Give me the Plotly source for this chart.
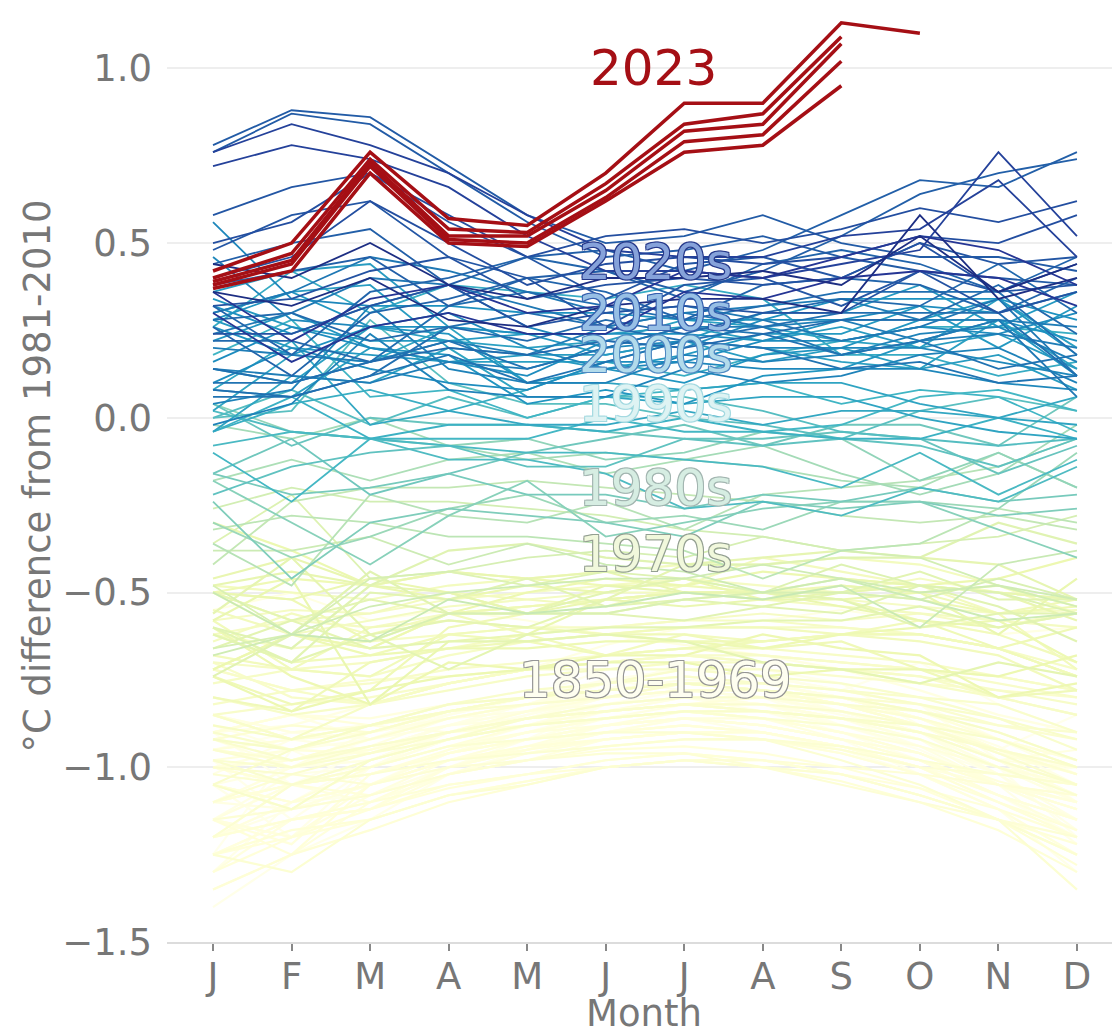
import numpy as np
import plotly.graph_objects as go

month_names = ["Jan", "Feb", "Mar", "Apr", "May", "Jun", "Jul", "Aug", "Sep", "Oct", "Nov", "Dec"]
month_labels = ["J", "F", "M", "A", "M", "J", "J", "A", "S", "O", "N", "D"]

# Monthly anomalies (deg C vs 1981-2010), one row per year, grouped by decade
d1850s = [
    [-1.25,-0.95,-1.05,-0.98,-0.92,-0.82,-0.78,-0.80,-0.88,-0.95,-1.05,-1.15],
    [-0.95,-0.90,-0.88,-0.85,-0.80,-0.72,-0.70,-0.74,-0.78,-0.70,-0.82,-0.90],
    [-1.05,-1.10,-0.98,-0.92,-0.85,-0.78,-0.70,-0.72,-0.76,-0.88,-0.95,-0.85],
    [-0.90,-1.05,-0.95,-0.88,-0.82,-0.75,-0.78,-0.80,-0.85,-0.90,-1.00,-1.20],
    [-1.10,-1.00,-0.92,-0.84,-0.80,-0.76,-0.72,-0.74,-0.78,-0.82,-0.98,-1.05],
    [-0.98,-1.15,-1.00,-0.90,-0.86,-0.80,-0.76,-0.78,-0.82,-0.86,-0.95,-1.10],
    [-1.15,-1.05,-1.02,-0.96,-0.90,-0.84,-0.80,-0.84,-0.90,-0.98,-1.08,-1.20],
    [-1.20,-1.10,-1.08,-1.00,-0.95,-0.88,-0.86,-0.88,-0.92,-1.02,-1.12,-1.25],
    [-1.05,-1.20,-1.00,-0.92,-0.88,-0.82,-0.80,-0.82,-0.86,-0.94,-1.02,-1.00],
    [-0.92,-0.95,-0.90,-0.86,-0.82,-0.76,-0.74,-0.76,-0.80,-0.84,-0.92,-1.02],
]
d1860s = [
    [-1.00,-1.05,-0.98,-0.90,-0.85,-0.80,-0.78,-0.80,-0.84,-0.90,-1.00,-1.10],
    [-1.30,-1.10,-1.05,-0.95,-0.88,-0.82,-0.80,-0.82,-0.88,-0.92,-1.02,-1.18],
    [-1.40,-1.25,-1.15,-1.02,-0.95,-0.90,-0.86,-0.90,-0.95,-1.02,-1.12,-1.30],
    [-0.85,-0.90,-0.92,-0.85,-0.80,-0.75,-0.72,-0.74,-0.78,-0.82,-0.92,-0.98],
    [-1.20,-1.12,-1.08,-1.00,-0.92,-0.86,-0.84,-0.86,-0.90,-0.96,-1.05,-1.22],
    [-0.95,-1.00,-0.95,-0.88,-0.82,-0.78,-0.75,-0.76,-0.80,-0.86,-0.96,-1.00],
    [-0.88,-0.95,-0.92,-0.86,-0.82,-0.76,-0.74,-0.76,-0.80,-0.86,-0.94,-1.05],
    [-1.02,-0.92,-0.95,-0.88,-0.84,-0.78,-0.76,-0.78,-0.82,-0.88,-0.98,-1.08],
    [-1.15,-1.02,-1.00,-0.90,-0.84,-0.80,-0.76,-0.78,-0.84,-0.88,-0.95,-1.00],
    [-0.90,-0.85,-0.92,-0.86,-0.82,-0.78,-0.76,-0.78,-0.80,-0.86,-0.92,-0.98],
]
d1870s = [
    [-1.05,-1.00,-0.98,-0.90,-0.86,-0.80,-0.78,-0.80,-0.84,-0.90,-1.02,-1.15],
    [-1.20,-1.05,-1.00,-0.92,-0.86,-0.82,-0.80,-0.82,-0.86,-0.92,-1.05,-1.12],
    [-1.00,-0.95,-0.96,-0.88,-0.84,-0.78,-0.76,-0.78,-0.82,-0.88,-0.98,-1.05],
    [-0.95,-0.98,-0.94,-0.86,-0.82,-0.78,-0.76,-0.76,-0.80,-0.86,-0.95,-1.02],
    [-0.92,-1.00,-0.98,-0.90,-0.86,-0.82,-0.80,-0.82,-0.84,-0.90,-1.00,-1.10],
    [-1.10,-1.12,-1.05,-0.96,-0.90,-0.86,-0.82,-0.84,-0.88,-0.94,-1.05,-1.12],
    [-1.00,-1.05,-1.00,-0.92,-0.88,-0.84,-0.80,-0.80,-0.82,-0.86,-0.95,-1.00],
    [-0.90,-0.88,-0.82,-0.76,-0.72,-0.65,-0.60,-0.58,-0.55,-0.58,-0.62,-0.60],
    [-0.55,-0.50,-0.58,-0.55,-0.58,-0.62,-0.65,-0.68,-0.72,-0.78,-0.85,-0.90],
    [-0.95,-0.92,-0.90,-0.86,-0.84,-0.82,-0.80,-0.82,-0.86,-0.90,-0.98,-1.10],
]
d1880s = [
    [-0.95,-0.98,-0.92,-0.88,-0.86,-0.84,-0.82,-0.82,-0.86,-0.92,-1.02,-1.05],
    [-1.10,-1.00,-0.90,-0.84,-0.80,-0.80,-0.78,-0.80,-0.84,-0.90,-0.98,-0.95],
    [-0.85,-0.90,-0.88,-0.90,-0.86,-0.84,-0.82,-0.84,-0.86,-0.90,-0.98,-1.08],
    [-1.05,-1.12,-1.05,-0.96,-0.90,-0.86,-0.84,-0.86,-0.92,-0.96,-1.05,-1.10],
    [-1.15,-1.05,-1.10,-1.02,-0.98,-0.92,-0.90,-0.92,-0.95,-1.00,-1.10,-1.20],
    [-1.25,-1.15,-1.10,-1.02,-0.96,-0.92,-0.90,-0.90,-0.94,-1.00,-1.05,-1.15],
    [-1.15,-1.20,-1.08,-0.98,-0.94,-0.90,-0.86,-0.88,-0.92,-0.98,-1.05,-1.12],
    [-1.20,-1.10,-1.05,-1.00,-0.95,-0.90,-0.88,-0.90,-0.94,-1.00,-1.08,-1.18],
    [-1.30,-1.15,-1.12,-1.00,-0.94,-0.88,-0.84,-0.84,-0.86,-0.90,-0.98,-1.00],
    [-0.90,-0.85,-0.86,-0.82,-0.80,-0.78,-0.76,-0.78,-0.82,-0.88,-0.98,-1.05],
]
d1890s = [
    [-1.10,-1.05,-1.02,-0.96,-0.92,-0.88,-0.86,-0.88,-0.92,-0.98,-1.08,-1.15],
    [-1.15,-1.20,-1.05,-0.98,-0.92,-0.88,-0.86,-0.86,-0.90,-0.96,-1.05,-1.10],
    [-1.25,-1.15,-1.12,-1.02,-0.96,-0.92,-0.90,-0.92,-0.96,-1.02,-1.12,-1.25],
    [-1.35,-1.25,-1.10,-1.00,-0.95,-0.90,-0.88,-0.90,-0.94,-1.00,-1.08,-1.15],
    [-1.10,-1.05,-1.00,-0.94,-0.90,-0.88,-0.86,-0.88,-0.92,-0.96,-1.04,-1.10],
    [-1.15,-1.22,-1.02,-0.95,-0.90,-0.86,-0.84,-0.86,-0.90,-0.94,-1.00,-1.05],
    [-0.98,-0.95,-0.96,-0.90,-0.84,-0.80,-0.78,-0.78,-0.80,-0.84,-0.92,-0.98],
    [-0.95,-0.92,-0.90,-0.84,-0.80,-0.78,-0.76,-0.78,-0.80,-0.86,-0.95,-1.02],
    [-1.00,-1.05,-1.02,-0.96,-0.92,-0.88,-0.86,-0.88,-0.92,-0.98,-1.08,-1.15],
    [-1.05,-1.10,-1.00,-0.94,-0.88,-0.84,-0.82,-0.80,-0.80,-0.84,-0.90,-0.98],
]
d1900s = [
    [-0.90,-0.85,-0.88,-0.84,-0.80,-0.78,-0.76,-0.78,-0.82,-0.88,-0.96,-1.02],
    [-1.00,-0.98,-0.95,-0.90,-0.88,-0.86,-0.84,-0.86,-0.90,-0.96,-1.05,-1.12],
    [-1.05,-1.10,-1.05,-0.98,-0.95,-0.92,-0.90,-0.92,-0.96,-1.02,-1.10,-1.20],
    [-1.10,-1.05,-1.08,-1.02,-0.98,-0.95,-0.94,-0.96,-1.00,-1.06,-1.15,-1.25],
    [-1.25,-1.20,-1.15,-1.08,-1.04,-1.00,-0.98,-0.98,-1.02,-1.06,-1.12,-1.20],
    [-1.15,-1.25,-1.05,-0.98,-0.94,-0.92,-0.90,-0.90,-0.94,-0.98,-1.05,-1.08],
    [-1.00,-1.05,-1.02,-0.96,-0.92,-0.90,-0.88,-0.90,-0.94,-1.00,-1.10,-1.18],
    [-1.30,-1.20,-1.12,-1.06,-1.02,-0.98,-0.96,-0.98,-1.02,-1.08,-1.15,-1.22],
    [-1.20,-1.15,-1.12,-1.05,-1.02,-1.00,-0.98,-1.00,-1.02,-1.08,-1.15,-1.25],
    [-1.25,-1.18,-1.15,-1.08,-1.04,-1.00,-0.98,-1.00,-1.04,-1.10,-1.18,-1.30],
]
d1910s = [
    [-1.20,-1.15,-1.10,-1.05,-1.02,-0.98,-0.96,-0.98,-1.02,-1.08,-1.15,-1.28],
    [-1.35,-1.25,-1.18,-1.10,-1.05,-1.00,-0.98,-0.98,-1.00,-1.02,-1.05,-1.08],
    [-1.10,-1.02,-1.05,-1.00,-0.98,-0.96,-0.96,-1.00,-1.05,-1.10,-1.15,-1.20],
    [-1.15,-1.12,-1.08,-1.02,-0.98,-0.94,-0.92,-0.92,-0.95,-1.00,-1.02,-1.05],
    [-0.95,-0.98,-0.92,-0.86,-0.82,-0.80,-0.78,-0.78,-0.82,-0.86,-0.92,-1.00],
    [-0.92,-0.88,-0.90,-0.84,-0.80,-0.78,-0.76,-0.78,-0.82,-0.88,-0.95,-1.02],
    [-1.02,-1.05,-1.00,-0.94,-0.92,-0.90,-0.90,-0.92,-0.98,-1.05,-1.15,-1.25],
    [-1.25,-1.30,-1.15,-1.08,-1.05,-1.00,-0.98,-1.00,-1.02,-1.08,-1.15,-1.35],
    [-1.20,-1.05,-1.02,-0.98,-0.96,-0.94,-0.92,-0.92,-0.94,-0.98,-1.02,-1.05],
    [-0.98,-1.00,-0.96,-0.92,-0.88,-0.86,-0.84,-0.86,-0.88,-0.92,-1.00,-1.08],
]
d1920s = [
    [-0.95,-1.00,-0.94,-0.90,-0.86,-0.84,-0.82,-0.82,-0.84,-0.88,-0.96,-1.05],
    [-0.85,-0.92,-0.88,-0.84,-0.82,-0.80,-0.76,-0.78,-0.80,-0.82,-0.88,-0.92],
    [-1.00,-1.02,-0.96,-0.90,-0.86,-0.84,-0.82,-0.84,-0.86,-0.90,-0.95,-1.00],
    [-0.98,-1.05,-0.98,-0.92,-0.86,-0.82,-0.80,-0.80,-0.82,-0.84,-0.88,-0.90],
    [-0.92,-0.98,-0.94,-0.90,-0.86,-0.84,-0.82,-0.84,-0.86,-0.90,-0.98,-1.05],
    [-1.05,-0.95,-0.90,-0.84,-0.80,-0.76,-0.72,-0.72,-0.74,-0.76,-0.78,-0.80],
    [-0.72,-0.78,-0.75,-0.74,-0.72,-0.72,-0.72,-0.74,-0.76,-0.80,-0.86,-0.95],
    [-0.90,-0.95,-0.88,-0.82,-0.78,-0.76,-0.74,-0.76,-0.78,-0.80,-0.82,-0.90],
    [-0.85,-0.92,-0.88,-0.84,-0.80,-0.78,-0.76,-0.76,-0.78,-0.82,-0.86,-0.92],
    [-1.05,-1.12,-0.98,-0.92,-0.88,-0.86,-0.84,-0.84,-0.86,-0.88,-0.92,-1.00],
]
d1930s = [
    [-0.85,-0.82,-0.80,-0.76,-0.72,-0.70,-0.68,-0.68,-0.70,-0.72,-0.74,-0.78],
    [-0.72,-0.78,-0.76,-0.72,-0.70,-0.68,-0.66,-0.68,-0.70,-0.72,-0.76,-0.80],
    [-0.70,-0.80,-0.82,-0.76,-0.72,-0.70,-0.68,-0.70,-0.72,-0.74,-0.80,-0.85],
    [-0.92,-0.95,-0.88,-0.82,-0.80,-0.78,-0.76,-0.78,-0.80,-0.84,-0.90,-0.98],
    [-0.80,-0.85,-0.82,-0.76,-0.72,-0.70,-0.68,-0.70,-0.72,-0.74,-0.78,-0.82],
    [-0.82,-0.78,-0.82,-0.78,-0.74,-0.72,-0.70,-0.70,-0.72,-0.76,-0.80,-0.85],
    [-0.88,-0.92,-0.82,-0.76,-0.72,-0.68,-0.66,-0.66,-0.68,-0.70,-0.74,-0.78],
    [-0.76,-0.72,-0.74,-0.68,-0.64,-0.62,-0.60,-0.60,-0.60,-0.62,-0.66,-0.72],
    [-0.62,-0.66,-0.64,-0.62,-0.60,-0.60,-0.58,-0.58,-0.60,-0.62,-0.66,-0.74],
    [-0.70,-0.72,-0.70,-0.66,-0.62,-0.60,-0.58,-0.56,-0.58,-0.56,-0.60,-0.55],
]
d1940s = [
    [-0.62,-0.58,-0.60,-0.56,-0.54,-0.52,-0.50,-0.50,-0.52,-0.54,-0.56,-0.55],
    [-0.58,-0.55,-0.56,-0.52,-0.50,-0.48,-0.46,-0.48,-0.50,-0.46,-0.50,-0.52],
    [-0.50,-0.62,-0.58,-0.54,-0.52,-0.50,-0.50,-0.52,-0.54,-0.56,-0.58,-0.60],
    [-0.64,-0.56,-0.62,-0.56,-0.54,-0.52,-0.50,-0.50,-0.50,-0.48,-0.50,-0.52],
    [-0.48,-0.50,-0.52,-0.48,-0.46,-0.44,-0.42,-0.42,-0.40,-0.42,-0.48,-0.56],
    [-0.50,-0.58,-0.56,-0.50,-0.52,-0.54,-0.48,-0.40,-0.44,-0.48,-0.56,-0.72],
    [-0.55,-0.62,-0.66,-0.56,-0.62,-0.68,-0.62,-0.64,-0.62,-0.64,-0.68,-0.78],
    [-0.68,-0.72,-0.60,-0.58,-0.60,-0.62,-0.60,-0.60,-0.62,-0.58,-0.62,-0.70],
    [-0.58,-0.72,-0.74,-0.62,-0.60,-0.62,-0.64,-0.64,-0.62,-0.62,-0.66,-0.74],
    [-0.62,-0.70,-0.68,-0.62,-0.64,-0.68,-0.66,-0.64,-0.62,-0.62,-0.66,-0.74],
]
d1950s = [
    [-0.80,-0.84,-0.70,-0.66,-0.64,-0.62,-0.62,-0.66,-0.64,-0.72,-0.80,-0.78],
    [-0.74,-0.82,-0.78,-0.60,-0.56,-0.56,-0.52,-0.50,-0.48,-0.50,-0.56,-0.52],
    [-0.50,-0.52,-0.64,-0.56,-0.54,-0.52,-0.50,-0.50,-0.52,-0.58,-0.66,-0.60],
    [-0.50,-0.46,-0.48,-0.44,-0.46,-0.48,-0.48,-0.50,-0.50,-0.52,-0.56,-0.54],
    [-0.72,-0.62,-0.68,-0.66,-0.66,-0.64,-0.64,-0.66,-0.62,-0.60,-0.58,-0.70],
    [-0.60,-0.74,-0.82,-0.70,-0.72,-0.68,-0.68,-0.62,-0.66,-0.68,-0.80,-0.76],
    [-0.74,-0.84,-0.78,-0.74,-0.72,-0.70,-0.70,-0.74,-0.72,-0.72,-0.74,-0.68],
    [-0.72,-0.62,-0.66,-0.56,-0.50,-0.46,-0.48,-0.44,-0.46,-0.48,-0.46,-0.40],
    [-0.30,-0.38,-0.48,-0.52,-0.48,-0.50,-0.46,-0.52,-0.52,-0.50,-0.48,-0.54],
    [-0.50,-0.52,-0.46,-0.50,-0.56,-0.52,-0.50,-0.50,-0.54,-0.58,-0.60,-0.56],
]
d1960s = [
    [-0.58,-0.46,-0.82,-0.64,-0.62,-0.52,-0.54,-0.52,-0.48,-0.50,-0.62,-0.46],
    [-0.46,-0.40,-0.48,-0.44,-0.46,-0.44,-0.50,-0.50,-0.46,-0.48,-0.50,-0.58],
    [-0.48,-0.44,-0.48,-0.50,-0.56,-0.48,-0.50,-0.52,-0.50,-0.48,-0.50,-0.52],
    [-0.56,-0.40,-0.62,-0.58,-0.60,-0.52,-0.42,-0.40,-0.38,-0.40,-0.42,-0.52],
    [-0.50,-0.58,-0.66,-0.64,-0.64,-0.62,-0.64,-0.70,-0.72,-0.76,-0.70,-0.74],
    [-0.62,-0.70,-0.62,-0.72,-0.62,-0.60,-0.60,-0.58,-0.58,-0.54,-0.60,-0.56],
    [-0.66,-0.58,-0.52,-0.56,-0.56,-0.50,-0.46,-0.50,-0.52,-0.60,-0.56,-0.56],
    [-0.60,-0.70,-0.50,-0.52,-0.46,-0.54,-0.52,-0.54,-0.50,-0.44,-0.52,-0.52],
    [-0.74,-0.62,-0.44,-0.56,-0.56,-0.56,-0.58,-0.54,-0.56,-0.48,-0.54,-0.64],
    [-0.60,-0.66,-0.48,-0.38,-0.36,-0.40,-0.42,-0.42,-0.40,-0.40,-0.30,-0.36],
]
d1970s = [
    [-0.36,-0.22,-0.46,-0.44,-0.48,-0.44,-0.46,-0.50,-0.42,-0.48,-0.50,-0.56],
    [-0.48,-0.62,-0.64,-0.56,-0.56,-0.56,-0.52,-0.50,-0.50,-0.52,-0.46,-0.52],
    [-0.66,-0.62,-0.46,-0.44,-0.40,-0.38,-0.40,-0.34,-0.38,-0.36,-0.34,-0.28],
    [-0.26,-0.20,-0.24,-0.24,-0.26,-0.28,-0.32,-0.34,-0.38,-0.40,-0.48,-0.54],
    [-0.68,-0.62,-0.54,-0.50,-0.48,-0.46,-0.46,-0.42,-0.46,-0.50,-0.48,-0.52],
    [-0.38,-0.38,-0.34,-0.42,-0.36,-0.42,-0.44,-0.50,-0.46,-0.52,-0.58,-0.56],
    [-0.50,-0.62,-0.64,-0.52,-0.56,-0.54,-0.50,-0.52,-0.48,-0.60,-0.42,-0.38],
    [-0.42,-0.24,-0.20,-0.20,-0.18,-0.20,-0.22,-0.24,-0.28,-0.30,-0.28,-0.32],
    [-0.32,-0.28,-0.30,-0.34,-0.34,-0.36,-0.38,-0.46,-0.38,-0.36,-0.26,-0.30],
    [-0.36,-0.48,-0.22,-0.28,-0.30,-0.24,-0.32,-0.22,-0.20,-0.18,-0.14,-0.06],
]
d1980s = [
    [-0.18,-0.12,-0.18,-0.12,-0.10,-0.16,-0.12,-0.14,-0.18,-0.20,-0.10,-0.20],
    [-0.02,-0.06, 0.00,-0.08,-0.12,-0.10,-0.12,-0.08,-0.16,-0.22,-0.16,-0.02],
    [-0.30,-0.40,-0.34,-0.26,-0.22,-0.30,-0.28,-0.32,-0.24,-0.24,-0.26,-0.10],
    [ 0.04,-0.04,-0.06,-0.08,-0.06,-0.12,-0.10,-0.04,-0.06,-0.18,-0.10,-0.20],
    [-0.18,-0.30,-0.42,-0.28,-0.18,-0.34,-0.30,-0.26,-0.24,-0.24,-0.32,-0.40],
    [-0.24,-0.46,-0.30,-0.26,-0.28,-0.30,-0.34,-0.24,-0.26,-0.24,-0.28,-0.26],
    [-0.16,-0.22,-0.20,-0.16,-0.22,-0.22,-0.26,-0.22,-0.24,-0.20,-0.24,-0.22],
    [-0.16,-0.06,-0.22,-0.16,-0.10,-0.06,-0.02,-0.08,-0.02,-0.02,-0.08, 0.06],
    [ 0.04,-0.08, 0.00,-0.02,-0.02,-0.04,-0.06,-0.06,-0.04,-0.06,-0.16,-0.08],
    [-0.22,-0.14,-0.10,-0.08,-0.14,-0.14,-0.06,-0.08,-0.06,-0.08,-0.14,-0.06],
]
d1990s = [
    [ 0.00, 0.02, 0.28, 0.10, 0.04, 0.04, 0.00,-0.02,-0.06, 0.02, 0.06, 0.02],
    [ 0.00, 0.08,-0.02, 0.06, 0.00, 0.06, 0.06, 0.02,-0.04,-0.06,-0.08,-0.06],
    [ 0.02,-0.04,-0.06,-0.12,-0.12,-0.16,-0.26,-0.24,-0.28,-0.20,-0.24,-0.14],
    [-0.08,-0.04,-0.06,-0.08,-0.10,-0.10,-0.12,-0.14,-0.20,-0.10,-0.22,-0.12],
    [-0.10,-0.24,-0.06,-0.06,-0.06, 0.00,-0.04,-0.04,-0.02, 0.06, 0.08, 0.02],
    [ 0.18, 0.28, 0.06, 0.08, 0.00, 0.06, 0.08, 0.10, 0.04, 0.08, 0.06,-0.04],
    [-0.04, 0.06,-0.06,-0.02,-0.02,-0.04, 0.00,-0.04,-0.06,-0.06, 0.00,-0.06],
    [-0.04, 0.04, 0.08, 0.02, 0.08, 0.16, 0.12, 0.18, 0.22, 0.26, 0.26, 0.24],
    [ 0.26, 0.42, 0.30, 0.38, 0.36, 0.34, 0.38, 0.34, 0.18, 0.18, 0.12, 0.16],
    [ 0.08, 0.22,-0.02, 0.02,-0.02,-0.02, 0.02,-0.02, 0.02, 0.02, 0.00, 0.06],
]
d2000s = [
    [-0.04, 0.12, 0.10, 0.20, 0.06, 0.06, 0.04, 0.06, 0.06, 0.00,-0.04,-0.06],
    [ 0.08, 0.06, 0.20, 0.16, 0.16, 0.16, 0.22, 0.20, 0.16, 0.14, 0.28, 0.14],
    [ 0.30, 0.36, 0.38, 0.20, 0.18, 0.18, 0.22, 0.16, 0.20, 0.14, 0.18, 0.08],
    [ 0.28, 0.20, 0.18, 0.16, 0.18, 0.14, 0.18, 0.24, 0.24, 0.32, 0.20, 0.32],
    [ 0.22, 0.30, 0.20, 0.18, 0.04, 0.08, 0.04, 0.12, 0.14, 0.22, 0.28, 0.12],
    [ 0.26, 0.18, 0.26, 0.26, 0.24, 0.24, 0.24, 0.22, 0.28, 0.28, 0.28, 0.22],
    [ 0.10, 0.20, 0.14, 0.10, 0.08, 0.16, 0.16, 0.22, 0.22, 0.26, 0.24, 0.30],
    [ 0.46, 0.28, 0.26, 0.30, 0.20, 0.14, 0.16, 0.14, 0.14, 0.14, 0.10, 0.08],
    [-0.02, 0.04, 0.24, 0.08, 0.06, 0.06, 0.14, 0.10, 0.12, 0.18, 0.20, 0.10],
    [ 0.14, 0.12, 0.10, 0.16, 0.14, 0.20, 0.26, 0.26, 0.28, 0.22, 0.24, 0.20],
]
d2010s = [
    [ 0.24, 0.30, 0.40, 0.38, 0.32, 0.26, 0.30, 0.26, 0.18, 0.22, 0.28, 0.06],
    [ 0.06, 0.06, 0.12, 0.18, 0.10, 0.16, 0.22, 0.20, 0.14, 0.16, 0.10, 0.12],
    [ 0.08, 0.06, 0.12, 0.26, 0.30, 0.26, 0.22, 0.26, 0.30, 0.30, 0.30, 0.12],
    [ 0.22, 0.22, 0.16, 0.20, 0.18, 0.22, 0.20, 0.24, 0.28, 0.28, 0.38, 0.24],
    [ 0.26, 0.12, 0.30, 0.34, 0.40, 0.36, 0.28, 0.38, 0.40, 0.38, 0.30, 0.40],
    [ 0.38, 0.42, 0.46, 0.32, 0.40, 0.42, 0.36, 0.42, 0.52, 0.64, 0.70, 0.74],
    [ 0.76, 0.87, 0.84, 0.70, 0.56, 0.46, 0.48, 0.52, 0.46, 0.42, 0.40, 0.38],
    [ 0.48, 0.58, 0.62, 0.46, 0.40, 0.26, 0.38, 0.40, 0.32, 0.42, 0.36, 0.38],
    [ 0.24, 0.24, 0.32, 0.38, 0.26, 0.30, 0.32, 0.30, 0.30, 0.42, 0.30, 0.36],
    [ 0.40, 0.46, 0.62, 0.50, 0.38, 0.44, 0.46, 0.44, 0.46, 0.52, 0.50, 0.58],
]
d2020s = [
    [ 0.72, 0.78, 0.74, 0.66, 0.52, 0.42, 0.42, 0.40, 0.44, 0.48, 0.76, 0.52],
    [ 0.30, 0.16, 0.26, 0.30, 0.24, 0.24, 0.36, 0.34, 0.40, 0.42, 0.40, 0.32],
    [ 0.36, 0.32, 0.40, 0.28, 0.26, 0.32, 0.34, 0.34, 0.30, 0.58, 0.34, 0.40],
]
# a second, slightly warmer dataset visible for the recent years
d2000s_alt = [
    [ 0.02, 0.18, 0.16, 0.26, 0.10, 0.10, 0.08, 0.10, 0.10, 0.04, 0.00,-0.02],
    [ 0.14, 0.10, 0.26, 0.22, 0.20, 0.22, 0.28, 0.26, 0.22, 0.20, 0.34, 0.20],
    [ 0.36, 0.42, 0.44, 0.26, 0.24, 0.24, 0.26, 0.22, 0.26, 0.20, 0.24, 0.14],
    [ 0.34, 0.26, 0.22, 0.22, 0.24, 0.18, 0.22, 0.30, 0.30, 0.38, 0.26, 0.36],
    [ 0.28, 0.36, 0.26, 0.24, 0.10, 0.14, 0.10, 0.18, 0.20, 0.28, 0.34, 0.18],
    [ 0.32, 0.24, 0.32, 0.32, 0.30, 0.30, 0.28, 0.28, 0.34, 0.34, 0.34, 0.28],
    [ 0.16, 0.26, 0.20, 0.16, 0.12, 0.22, 0.20, 0.28, 0.28, 0.32, 0.30, 0.36],
    [ 0.56, 0.34, 0.32, 0.38, 0.26, 0.20, 0.22, 0.20, 0.20, 0.20, 0.16, 0.12],
    [ 0.04, 0.08, 0.32, 0.14, 0.10, 0.10, 0.18, 0.16, 0.18, 0.24, 0.26, 0.16],
    [ 0.20, 0.18, 0.16, 0.22, 0.18, 0.26, 0.30, 0.32, 0.34, 0.28, 0.28, 0.26],
]
d2010s_alt = [
    [ 0.30, 0.36, 0.46, 0.42, 0.36, 0.30, 0.32, 0.28, 0.22, 0.26, 0.34, 0.12],
    [ 0.10, 0.10, 0.16, 0.22, 0.14, 0.20, 0.26, 0.24, 0.18, 0.22, 0.14, 0.18],
    [ 0.14, 0.10, 0.16, 0.32, 0.36, 0.32, 0.28, 0.32, 0.36, 0.36, 0.36, 0.18],
    [ 0.28, 0.30, 0.22, 0.26, 0.22, 0.28, 0.24, 0.30, 0.34, 0.32, 0.44, 0.30],
    [ 0.32, 0.18, 0.36, 0.40, 0.46, 0.42, 0.34, 0.44, 0.48, 0.44, 0.36, 0.46],
    [ 0.44, 0.50, 0.54, 0.38, 0.46, 0.48, 0.42, 0.48, 0.58, 0.68, 0.66, 0.76],
    [ 0.78, 0.88, 0.86, 0.72, 0.58, 0.50, 0.52, 0.58, 0.50, 0.46, 0.46, 0.42],
    [ 0.58, 0.66, 0.70, 0.56, 0.46, 0.34, 0.44, 0.46, 0.40, 0.50, 0.44, 0.46],
    [ 0.32, 0.34, 0.42, 0.46, 0.34, 0.38, 0.40, 0.38, 0.40, 0.50, 0.36, 0.44],
    [ 0.50, 0.56, 0.70, 0.58, 0.46, 0.52, 0.54, 0.50, 0.54, 0.60, 0.56, 0.62],
]
d2020s_alt = [
    [ 0.76, 0.84, 0.78, 0.70, 0.58, 0.48, 0.46, 0.46, 0.52, 0.54, 0.68, 0.46],
    [ 0.36, 0.22, 0.34, 0.38, 0.30, 0.32, 0.42, 0.40, 0.46, 0.52, 0.48, 0.38],
    [ 0.44, 0.40, 0.50, 0.38, 0.34, 0.40, 0.40, 0.42, 0.38, 0.52, 0.36, 0.44],
]
decade_starts = [1850, 1860, 1870, 1880, 1890, 1900, 1910, 1920, 1930, 1940,
                 1950, 1960, 1970, 1980, 1990, 2000, 2010, 2020, 2000, 2010, 2020]
decade_rows = [d1850s, d1860s, d1870s, d1880s, d1890s, d1900s, d1910s, d1920s, d1930s,
               d1940s, d1950s, d1960s, d1970s, d1980s, d1990s, d2000s, d2010s, d2020s,
               d2000s_alt, d2010s_alt, d2020s_alt]

# 2023, several datasets (most through September, one through October)
y2023_a = [0.42, 0.50, 0.76, 0.57, 0.55, 0.70, 0.90, 0.90, 1.13, 1.10]
y2023_b = [0.40, 0.47, 0.74, 0.54, 0.53, 0.67, 0.84, 0.87, 1.09]
y2023_c = [0.39, 0.45, 0.73, 0.52, 0.52, 0.65, 0.82, 0.84, 1.07]
y2023_d = [0.38, 0.44, 0.72, 0.51, 0.50, 0.63, 0.79, 0.81, 1.02]
y2023_e = [0.37, 0.42, 0.70, 0.50, 0.49, 0.62, 0.76, 0.78, 0.95]

decade_labels = ["2020s", "2010s", "2000s", "1990s", "1980s", "1970s", "1850-1969"]
decade_label_y = [0.446, 0.30, 0.18, 0.04, -0.20, -0.39, -0.75]

# ---- styling ----
FONT = "DejaVu Sans"
YLGNBU = [(255,255,236),(255,255,217),(237,248,177),(199,233,180),(127,205,187),(65,182,196),
          (29,145,192),(34,94,168),(37,52,148),(8,29,88)]
anchor_years = [1850, 1900, 1940, 1969, 1979, 1989, 1999, 2009, 2019, 2022]
anchor_t = [0.0, 0.10, 0.17, 0.26, 0.36, 0.50, 0.60, 0.71, 0.82, 0.92]


def year_color(year):
    t = float(np.interp(year, anchor_years, anchor_t))
    pos = t * (len(YLGNBU) - 1)
    i = min(int(pos), len(YLGNBU) - 2)
    f = pos - i
    c = [round(YLGNBU[i][k] + (YLGNBU[i + 1][k] - YLGNBU[i][k]) * f) for k in range(3)]
    return f"rgb({c[0]},{c[1]},{c[2]})"


series_list = []
for start, rows in zip(decade_starts, decade_rows):
    for i, row in enumerate(rows):
        series_list.append((start + i, row))
series_list.sort(key=lambda s: s[0])

fig = go.Figure()
for yr, row in series_list:
    fig.add_trace(go.Scatter(
        x=month_names, y=row, mode="lines",
        line=dict(color=year_color(yr), width=2.2 if yr < 1970 else 1.8),
        hoverinfo="skip", showlegend=False))

for series in [y2023_e, y2023_d, y2023_c, y2023_b, y2023_a]:
    fig.add_trace(go.Scatter(
        x=month_names[:len(series)], y=series, mode="lines",
        line=dict(color="#a50f15", width=3.5),
        hoverinfo="skip", showlegend=False))

# outlined decade labels: opaque interior colour, 1px outline drawn as text-shadow
label_outline = ["#26398a", "#3660ae", "#4f88c2", "#a3d9e0", "#a2b5b0", "#939f91", "#959595"]
label_inner = ["#86a2da", "#97bfe5", "#b2dbeb", "#def3f3", "#d6ede2", "#f1f8dc", "#fefef0"]
for txt, yv, oc, ic in zip(decade_labels, decade_label_y, label_outline, label_inner):
    sh = f"1px 1px 0 {oc}, -1px -1px 0 {oc}, 1px -1px 0 {oc}, -1px 1px 0 {oc}"
    fig.add_annotation(x=5.63, y=yv, text=txt, showarrow=False, xanchor="center", yanchor="middle",
                       font=dict(family=FONT, size=50, color=ic, shadow=sh))

fig.add_annotation(x=5.61, y=1.0, text="2023", showarrow=False, xanchor="center", yanchor="middle",
                   font=dict(family=FONT, size=50, color="#a50f15"))

fig.add_annotation(x=0.5, y=-0.0762, xref="paper", yref="paper", text="Month", showarrow=False,
                   xanchor="center", yanchor="middle",
                   font=dict(family=FONT, size=37, color="#777777"))

# the page adds an 8px body margin, so the figure is 8px smaller than the window
fig.update_layout(
    width=1112, height=1028,
    margin=dict(l=159, r=0, t=2, b=94),
    paper_bgcolor="white", plot_bgcolor="white",
    font=dict(family=FONT, color="#777777", size=37),
    xaxis=dict(
        type="category", categoryorder="array", categoryarray=month_names,
        tickvals=month_names, ticktext=month_labels,
        range=[-0.586, 11.548],
        showgrid=False, zeroline=False,
        showline=True, linecolor="#dcdcdc", linewidth=2,
        ticks="outside", ticklen=7, tickwidth=1.5, tickcolor="#888888",
        ticklabelstandoff=-6,
        tickfont=dict(size=37, color="#777777"),
    ),
    yaxis=dict(
        range=[-1.5, 1.1668],
        tickvals=[-1.5, -1.0, -0.5, 0.0, 0.5, 1.0], tickformat=".1f",
        showgrid=True, gridcolor="#eeeeee", gridwidth=1.5,
        zeroline=False, showline=False, ticks="",
        ticklabelstandoff=14,
        tickfont=dict(size=37, color="#777777"),
        title=dict(text="°C difference from 1981-2010", font=dict(size=37, color="#777777"), standoff=0),
    ),
)

fig.write_html("out.html")
